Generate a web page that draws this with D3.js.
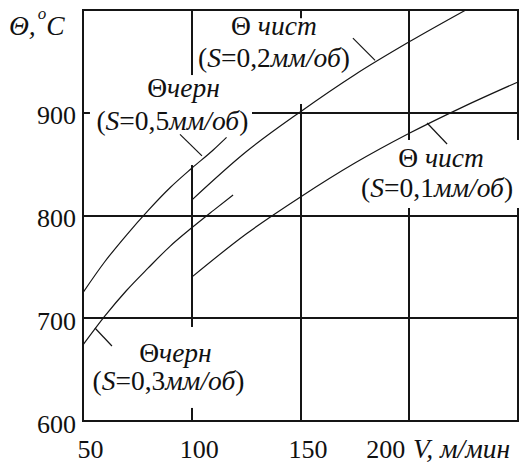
<!DOCTYPE html>
<html>
<head>
<meta charset="utf-8">
<script src="https://cdn.jsdelivr.net/npm/d3@7"></script>
<style>
  body { margin: 0; background: #fff; }
  svg text { font-family: "Liberation Serif", "Times New Roman", serif; fill: #111; }
</style>
</head>
<body>
<div class="chart"></div>
<script>
let width = 525
let height = 466

// axis ticks
let xTicks = [50, 100, 150, 200]
let yTicks = [600, 700, 800, 900]

// cutting speed V (m/min) vs temperature (deg C)
let vRough05 = [50, 60, 70, 80, 90, 100, 110, 116]
let tRough05 = [725, 755, 781, 805, 827, 846, 864, 876]
let vRough03 = [50, 60, 70, 80, 90, 100, 110, 119]
let tRough03 = [674, 702, 727, 749, 770, 788, 805, 820]
let vFine02 = [100, 125, 150, 175, 200, 226]
let tFine02 = [815, 862, 901, 937, 969, 1000]
let vFine01 = [100, 125, 150, 175, 200, 225, 250]
let tFine01 = [740, 782, 818, 851, 880, 906, 930]

let series = [
  {v: vRough05, t: tRough05},
  {v: vRough03, t: tRough03},
  {v: vFine02, t: tFine02},
  {v: vFine01, t: tFine01}
]

// curve labels, placed in data units
let notes = [
  {kind: "чист", s: "0,2", c1: [137.8, 975.7], c2: [137.8, 944.5],
    box: [100.6, 176, 908.5, 992], leader: [[184.3, 951], [174.1, 972.7]]},
  {kind: "черн", s: "0,5", c1: [96.2, 915.3], c2: [91.1, 883.2],
    box: [53.2, 127.7, 849.1, 936.7], leader: [[104.7, 858], [94.6, 879]]},
  {kind: "черн", s: "0,3", c1: [92.5, 657.4], c2: [89.3, 630.2],
    box: [51.4, 129.1, 612.7, 691.5], leader: [[55.5, 690.5], [63.3, 673]]},
  {kind: "чист", s: "0,1", c1: [214.6, 847.2], c2: [212.8, 818],
    box: [175, 251.5, 807.3, 873.5], leader: [[208.2, 890], [217.4, 869.6]]}
]

let x = d3.scaleLinear().domain([50, 250]).range([83, 518])
let y = d3.scaleLinear().domain([600, 1000]).range([421, 10])

let svg = d3.select(".chart")
  .append("svg")
  .attr("width", width)
  .attr("height", height)

let ink = "#151515"

// grid
let grid = svg.append("g")
  .attr("stroke", ink)
  .attr("stroke-width", 2)
  .attr("shape-rendering", "crispEdges")

grid.selectAll(".vgrid")
  .data(xTicks.slice(1))
  .enter()
  .append("line")
  .attr("x1", d => x(d))
  .attr("x2", d => x(d))
  .attr("y1", y(1000))
  .attr("y2", y(600))

grid.selectAll(".hgrid")
  .data(yTicks.slice(1))
  .enter()
  .append("line")
  .attr("x1", x(50))
  .attr("x2", x(250))
  .attr("y1", d => y(d))
  .attr("y2", d => y(d))

grid.append("rect")
  .attr("x", x(50))
  .attr("y", y(1000))
  .attr("width", x(250) - x(50))
  .attr("height", y(600) - y(1000))
  .attr("fill", "none")

// white boxes behind the labels (they break the grid)
svg.selectAll(".box")
  .data(notes)
  .enter()
  .append("rect")
  .attr("x", d => x(d.box[0]))
  .attr("y", d => y(d.box[3]))
  .attr("width", d => x(d.box[1]) - x(d.box[0]))
  .attr("height", d => y(d.box[2]) - y(d.box[3]))
  .attr("fill", "#fff")

// curves
let line = d3.line()
  .x(d => x(d[0]))
  .y(d => y(d[1]))
  .curve(d3.curveMonotoneX)

svg.selectAll(".curve")
  .data(series)
  .enter()
  .append("path")
  .attr("d", d => line(d.v.map((v, i) => [v, d.t[i]])))
  .attr("fill", "none")
  .attr("stroke", ink)
  .attr("stroke-width", 1.2)

// leaders
svg.selectAll(".leader")
  .data(notes)
  .enter()
  .append("line")
  .attr("x1", d => x(d.leader[0][0]))
  .attr("y1", d => y(d.leader[0][1]))
  .attr("x2", d => x(d.leader[1][0]))
  .attr("y2", d => y(d.leader[1][1]))
  .attr("stroke", ink)
  .attr("stroke-width", 1.2)

// label text
let fs = 26
let lfs = 27.5
let l1 = svg.selectAll(".l1")
  .data(notes)
  .enter()
  .append("text")
  .attr("x", d => x(d.c1[0]))
  .attr("y", d => y(d.c1[1]))
  .attr("text-anchor", "middle")
  .attr("font-size", lfs)
l1.append("tspan").text(d => d.kind === "чист" ? "Θ " : "Θ")
l1.append("tspan").attr("font-style", "italic").text(d => d.kind)

let l2 = svg.selectAll(".l2")
  .data(notes)
  .enter()
  .append("text")
  .attr("x", d => x(d.c2[0]))
  .attr("y", d => y(d.c2[1]))
  .attr("text-anchor", "middle")
  .attr("font-size", lfs)
l2.append("tspan").text("(")
l2.append("tspan").attr("font-style", "italic").text("S")
l2.append("tspan").text(d => "=" + d.s)
l2.append("tspan").attr("font-style", "italic").text("мм/об")
l2.append("tspan").text(")")

// axes
let xAxis = svg.append("g")
  .attr("transform", `translate(0,${y(600)})`)
  .call(d3.axisBottom(x).tickValues(xTicks).tickSize(0))
xAxis.select(".domain").remove()
xAxis.selectAll("text")
  .attr("font-size", fs)
  .attr("font-family", null)
  .attr("fill", ink)
  .attr("y", 37)
  .attr("dy", 0)
  .attr("dx", d => d === 200 ? -24 : 7)

let yAxis = svg.append("g")
  .attr("transform", `translate(${x(50)},0)`)
  .call(d3.axisLeft(y).tickValues(yTicks).tickSize(0))
yAxis.select(".domain").remove()
yAxis.selectAll("text")
  .attr("font-size", fs)
  .attr("font-family", null)
  .attr("fill", ink)
  .attr("x", -7)
  .attr("dy", 11)

svg.append("text")
  .attr("x", 413)
  .attr("y", 458)
  .attr("font-size", lfs)
  .attr("font-style", "italic")
  .text("V, м/мин")

let yTitle = svg.append("text")
  .attr("x", 9)
  .attr("y", 35)
  .attr("font-size", lfs)
  .attr("font-style", "italic")
yTitle.append("tspan").text("Θ,")
yTitle.append("tspan").attr("dx", 2).attr("dy", -16).attr("font-size", 17).text("o")
yTitle.append("tspan").attr("dy", 16).text("C")
</script>
</body>
</html>
